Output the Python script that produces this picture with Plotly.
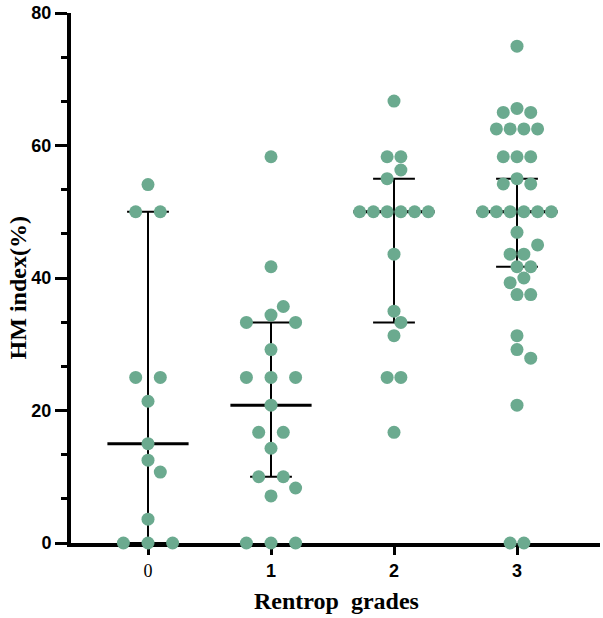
import plotly.graph_objects as go

# ---------------- data ----------------
categories = [0, 1, 2, 3]
category_labels = ['<span style="font-family:\'Times New Roman\',\'Liberation Serif\',serif;font-weight:normal">0</span>',
                   "1", "2", "3"]

grade0 = [54.1, 50, 50, 25, 25, 21.4, 15, 12.5, 10.7, 3.6, 0, 0, 0]
grade1 = [58.3, 41.7, 35.7, 34.4, 33.3, 33.3, 29.2, 25, 25, 25, 20.8,
          16.7, 16.7, 14.3, 10, 10, 8.3, 7.1, 0, 0, 0]
grade2 = [66.7, 58.3, 58.3, 56.3, 55, 50, 50, 50, 50, 50, 50, 43.6,
          35, 33.3, 31.3, 25, 25, 16.7]
grade3 = [75, 65.6, 65, 65, 62.5, 62.5, 62.5, 62.5, 58.3, 58.3, 58.3,
          55, 54.2, 54.2, 50, 50, 50, 50, 50, 50, 46.9, 45, 43.6, 43.6,
          41.7, 41.7, 40, 39.3, 37.5, 37.5, 31.3, 29.2, 27.9, 20.8, 0, 0]
groups = [grade0, grade1, grade2, grade3]

medians = [15, 20.8, 50, 50]
q1 = [0, 10, 33.3, 41.7]
q3 = [50, 33.3, 55, 55]

# ---------------- layout constants ----------------
W, H = 603, 618
ML, MR, MT, MB = 71, 3, 10, 75
XMIN = -0.626
PX_X = 123.0
XMAX = XMIN + (W - ML - MR) / PX_X
YMIN, YMAX = 0, 80
PX_Y = (H - MT - MB) / (YMAX - YMIN)
DOT = 13
COLOR = "#6BAA8F"
ROW_TOL = 1.3


def make_rows(vals, tol=ROW_TOL):
    v = sorted(vals, reverse=True)
    rows = []
    for val in v:
        if rows and rows[-1][0] - val <= tol:
            rows[-1].append(val)
        else:
            rows.append([val])
    return rows


def swarm(vals, slot, diam=13):
    """GraphPad-like beeswarm: near-equal values form centred rows,
    rows are shifted by half slots until they do not overlap."""
    rows = make_rows(vals)
    order = sorted(range(len(rows)), key=lambda i: (-len(rows[i]), -rows[i][0]))
    shifts = [0.0]
    for k in range(1, 40):
        shifts += [k * 0.5, -k * 0.5]
    placed = []
    for i in order:
        row = rows[i]
        n = len(row)
        base = sorted([j - (n - 1) / 2 for j in range(n)], key=lambda b: (abs(b), -b))
        for s in shifts:
            pos = [b + s for b in base]
            ok = True
            for p, yv in zip(pos, row):
                for q, qv in placed:
                    if ((p - q) * slot * PX_X) ** 2 + ((yv - qv) * PX_Y) ** 2 < diam ** 2:
                        ok = False
                        break
                if not ok:
                    break
            if ok:
                break
        placed += list(zip(pos, row))
    return placed


fig = go.Figure()

# summary lines (median + interquartile range)
wx, wy, mx, my = [], [], [], []
CAP, MED = 0.17, 0.33
for c, m, lo, hi in zip(categories, medians, q1, q3):
    wx += [c, c, None, c - CAP, c + CAP, None, c - CAP, c + CAP, None]
    wy += [lo, hi, None, lo, lo, None, hi, hi, None]
    mx += [c - MED, c + MED, None]
    my += [m, m, None]
fig.add_trace(go.Scatter(x=wx, y=wy, mode="lines", line=dict(color="black", width=2),
                         hoverinfo="skip", showlegend=False, cliponaxis=False))
fig.add_trace(go.Scatter(x=mx, y=my, mode="lines", line=dict(color="black", width=3),
                         hoverinfo="skip", showlegend=False, cliponaxis=False))

# points
for c, vals in zip(categories, groups):
    widest = max(len(r) for r in make_rows(vals))
    slot = min(0.2, 0.67 / widest)
    pts = swarm(vals, slot)
    fig.add_trace(go.Scatter(
        x=[c + p * slot for p, _ in pts], y=[y for _, y in pts], mode="markers",
        marker=dict(size=DOT, color=COLOR, line=dict(width=0)),
        showlegend=False, cliponaxis=False))

axis_common = dict(showline=True, linewidth=4, linecolor="black", showgrid=False,
                   zeroline=False, ticks="outside", tickcolor="black", layer="below traces")
tick_font = dict(family="Arial, Liberation Sans", size=18, color="black", weight="bold")
title_font = dict(family="Times New Roman, Liberation Serif", size=24, color="black", weight="bold")

fig.update_layout(
    width=W, height=H, margin=dict(l=ML, r=MR, t=MT, b=MB),
    paper_bgcolor="white", plot_bgcolor="white",
    xaxis=dict(range=[XMIN, XMAX], tickvals=categories, ticktext=category_labels,
               ticklen=8, tickwidth=3, tickfont=tick_font, **axis_common),
    yaxis=dict(range=[YMIN, YMAX], tick0=0, dtick=20, ticklen=12, tickwidth=3,
               tickfont=tick_font,
               minor=dict(tick0=0, dtick=20 / 3, ticklen=6, tickwidth=3, ticks="outside",
                          tickcolor="black", showgrid=False),
               **axis_common),
    annotations=[
        dict(text="Rentrop\u00a0 grades", xref="paper", yref="paper",
             x=(336 - ML) / (W - ML - MR), y=-(601 - (H - MB)) / (H - MT - MB),
             xanchor="center", yanchor="middle", showarrow=False, font=title_font),
        dict(text="HM index(%)", xref="paper", yref="paper", textangle=-90,
             x=(18 - ML) / (W - ML - MR), y=((H - MB) - 287) / (H - MT - MB),
             xanchor="center", yanchor="middle", showarrow=False, font=title_font),
    ],
)

fig.write_html("out.html")
